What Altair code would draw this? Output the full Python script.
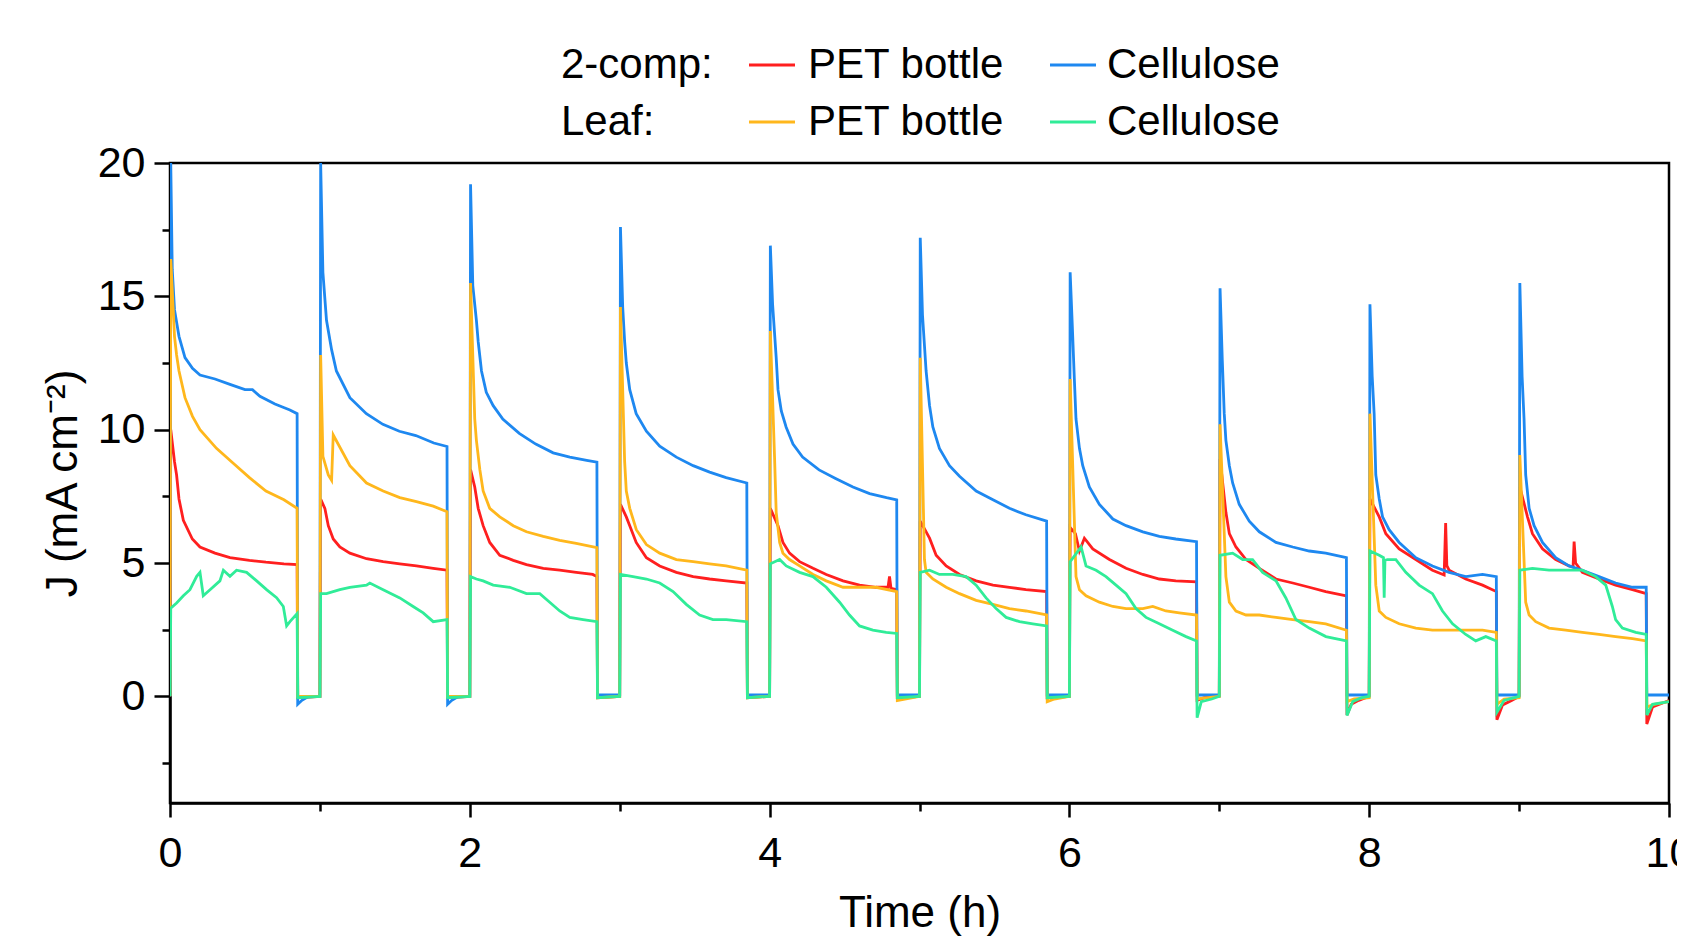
import altair as alt
import pandas as pd

FONT = "Liberation Sans, Arial, Helvetica, sans-serif"

SERIES = ["2-comp: PET bottle", "2-comp: Cellulose", "Leaf: PET bottle", "Leaf: Cellulose"]
COLORS = ["#FF1F1F", "#1E88F0", "#FFB71C", "#30EC98"]
DRAW_ORDER = ["2-comp: PET bottle", "2-comp: Cellulose", "Leaf: PET bottle", "Leaf: Cellulose"]

CYCLE_STARTS = [0, 1, 2, 3, 4, 5, 6, 7, 8, 9]

# [offset within cycle (h), J (mA cm-2)] -- light-on part of each cycle
CELL_2COMP_ON = [
    [[0, 0], [0.005, 20.0], [0.015, 16.0], [0.03, 14.5], [0.06, 13.5], [0.1, 12.7], [0.15, 12.3], [0.2, 12.05], [0.3, 11.9], [0.4, 11.7], [0.5, 11.5], [0.55, 11.5], [0.6, 11.25], [0.7, 10.96], [0.8, 10.74], [0.848, 10.6]],
    [[0, 0], [0.005, 20.0], [0.02, 15.9], [0.044, 14.1], [0.078, 13.0], [0.11, 12.2], [0.2, 11.2], [0.31, 10.6], [0.42, 10.2], [0.53, 9.94], [0.64, 9.78], [0.76, 9.5], [0.848, 9.37]],
    [[0, 0], [0.005, 19.2], [0.02, 15.4], [0.044, 14.1], [0.056, 13.3], [0.078, 12.2], [0.11, 11.4], [0.156, 10.9], [0.22, 10.4], [0.33, 9.86], [0.44, 9.46], [0.556, 9.13], [0.667, 8.97], [0.78, 8.85], [0.848, 8.78]],
    [[0, 0], [0.005, 17.6], [0.02, 14.6], [0.033, 13.3], [0.044, 12.5], [0.067, 11.5], [0.11, 10.6], [0.178, 9.94], [0.267, 9.38], [0.378, 8.97], [0.49, 8.65], [0.6, 8.41], [0.71, 8.2], [0.848, 8.0]],
    [[0, 0], [0.005, 16.9], [0.02, 14.7], [0.044, 12.7], [0.056, 11.5], [0.078, 10.7], [0.11, 10.1], [0.156, 9.46], [0.22, 8.97], [0.33, 8.49], [0.44, 8.17], [0.556, 7.85], [0.667, 7.6], [0.78, 7.45], [0.848, 7.37]],
    [[0, 0], [0.005, 17.2], [0.02, 14.3], [0.044, 12.2], [0.067, 10.9], [0.089, 10.1], [0.133, 9.3], [0.2, 8.65], [0.267, 8.25], [0.378, 7.7], [0.49, 7.37], [0.6, 7.05], [0.71, 6.81], [0.848, 6.57]],
    [[0, 0], [0.005, 15.9], [0.02, 13.8], [0.033, 11.9], [0.044, 10.4], [0.067, 9.3], [0.089, 8.65], [0.133, 7.85], [0.2, 7.2], [0.29, 6.65], [0.378, 6.4], [0.49, 6.17], [0.6, 6.0], [0.71, 5.9], [0.848, 5.8]],
    [[0, 0], [0.005, 15.3], [0.02, 12.6], [0.033, 10.6], [0.044, 9.6], [0.067, 8.65], [0.089, 8.0], [0.133, 7.2], [0.2, 6.57], [0.267, 6.17], [0.378, 5.77], [0.49, 5.6], [0.6, 5.45], [0.71, 5.37], [0.848, 5.2]],
    [[0, 0], [0.005, 14.7], [0.02, 12.0], [0.033, 10.6], [0.044, 8.3], [0.067, 7.4], [0.089, 6.73], [0.133, 6.25], [0.2, 5.77], [0.311, 5.2], [0.422, 4.89], [0.533, 4.65], [0.644, 4.49], [0.756, 4.57], [0.848, 4.49]],
    [[0, 0], [0.005, 15.5], [0.02, 12.0], [0.033, 10.4], [0.044, 8.3], [0.067, 7.05], [0.1, 6.4], [0.156, 5.77], [0.244, 5.2], [0.333, 4.89], [0.422, 4.73], [0.533, 4.49], [0.644, 4.25], [0.756, 4.09], [0.848, 4.09]],
]
CELL_2COMP_OFF = [
    [[0.852, -0.3], [0.88, -0.15], [0.92, -0.02], [1.0, 0]],
    [[0.852, -0.3], [0.88, -0.15], [0.92, -0.02], [1.0, 0]],
    [[0.852, 0.05], [1.0, 0.05]],
    [[0.852, 0.05], [1.0, 0.05]],
    [[0.852, 0.05], [1.0, 0.05]],
    [[0.852, 0.05], [1.0, 0.05]],
    [[0.852, 0.05], [1.0, 0.05]],
    [[0.852, 0.05], [1.0, 0.05]],
    [[0.852, 0.05], [1.0, 0.05]],
    [[0.852, 0.05], [1.0, 0.05]],
]

PET_2COMP_ON = [
    [[0, 0], [0.005, 10.0], [0.03, 8.8], [0.044, 8.3], [0.06, 7.4], [0.089, 6.6], [0.149, 5.9], [0.2, 5.6], [0.3, 5.37], [0.4, 5.2], [0.53, 5.1], [0.64, 5.03], [0.76, 4.97], [0.848, 4.94]],
    [[0, 0], [0.005, 7.4], [0.033, 7.05], [0.056, 6.4], [0.089, 5.9], [0.133, 5.6], [0.2, 5.37], [0.311, 5.16], [0.422, 5.05], [0.533, 4.97], [0.644, 4.89], [0.756, 4.8], [0.848, 4.73]],
    [[0, 0], [0.005, 8.5], [0.033, 7.85], [0.056, 7.05], [0.089, 6.4], [0.133, 5.77], [0.2, 5.29], [0.29, 5.1], [0.378, 4.94], [0.49, 4.8], [0.6, 4.73], [0.71, 4.65], [0.82, 4.57], [0.848, 4.49]],
    [[0, 0], [0.005, 7.2], [0.044, 6.73], [0.067, 6.4], [0.11, 5.77], [0.178, 5.2], [0.267, 4.89], [0.378, 4.65], [0.49, 4.49], [0.6, 4.4], [0.71, 4.33], [0.848, 4.25]],
    [[0, 0], [0.005, 7.05], [0.056, 6.4], [0.089, 5.77], [0.133, 5.37], [0.2, 5.05], [0.29, 4.8], [0.378, 4.57], [0.49, 4.33], [0.6, 4.17], [0.71, 4.09], [0.79, 4.09], [0.8, 4.5], [0.81, 4.05], [0.848, 4.0]],
    [[0, 0], [0.005, 6.57], [0.067, 5.93], [0.111, 5.29], [0.178, 4.89], [0.267, 4.57], [0.378, 4.33], [0.49, 4.17], [0.6, 4.09], [0.71, 4.0], [0.848, 3.93]],
    [[0, 0], [0.005, 6.33], [0.04, 6.1], [0.067, 5.45], [0.1, 5.93], [0.156, 5.53], [0.267, 5.13], [0.378, 4.8], [0.49, 4.57], [0.6, 4.4], [0.71, 4.33], [0.848, 4.29]],
    [[0, 0], [0.005, 8.9], [0.044, 6.9], [0.067, 6.1], [0.111, 5.6], [0.178, 5.13], [0.267, 4.8], [0.378, 4.4], [0.49, 4.25], [0.6, 4.09], [0.71, 3.93], [0.848, 3.77]],
    [[0, 0], [0.005, 7.4], [0.067, 6.73], [0.111, 6.1], [0.2, 5.53], [0.311, 5.13], [0.422, 4.73], [0.5, 4.55], [0.51, 6.5], [0.518, 4.9], [0.533, 4.73], [0.644, 4.4], [0.756, 4.17], [0.848, 3.93]],
    [[0, 0], [0.005, 7.85], [0.056, 6.73], [0.089, 6.1], [0.156, 5.53], [0.244, 5.13], [0.333, 4.89], [0.36, 4.85], [0.367, 5.8], [0.377, 5.0], [0.422, 4.65], [0.533, 4.4], [0.644, 4.17], [0.756, 4.0], [0.848, 3.85]],
]
PET_2COMP_OFF = [
    [[0.852, -0.05], [1.0, 0]],
    [[0.852, -0.05], [1.0, 0]],
    [[0.852, -0.05], [1.0, 0]],
    [[0.852, -0.05], [1.0, 0]],
    [[0.852, -0.05], [1.0, 0]],
    [[0.852, -0.05], [1.0, 0]],
    [[0.852, -0.15], [0.9, -0.05], [1.0, 0]],
    [[0.852, -0.7], [0.88, -0.3], [0.93, -0.15], [1.0, 0]],
    [[0.852, -0.88], [0.89, -0.32], [0.95, -0.16], [1.0, 0]],
    [[0.852, -1.04], [0.89, -0.4], [1.0, -0.16]],
]

PET_LEAF_ON = [
    [[0, 0], [0.005, 16.4], [0.03, 13.5], [0.044, 12.8], [0.06, 12.2], [0.1, 11.2], [0.15, 10.5], [0.2, 10.0], [0.31, 9.3], [0.42, 8.75], [0.53, 8.2], [0.64, 7.7], [0.76, 7.37], [0.848, 7.05]],
    [[0, 0], [0.005, 12.8], [0.02, 9.0], [0.056, 8.3], [0.078, 8.1], [0.089, 9.8], [0.2, 8.65], [0.311, 8.0], [0.422, 7.7], [0.533, 7.45], [0.644, 7.3], [0.756, 7.13], [0.848, 6.92]],
    [[0, 0], [0.005, 15.5], [0.033, 10.4], [0.044, 9.6], [0.067, 8.5], [0.089, 7.7], [0.133, 7.05], [0.2, 6.73], [0.29, 6.4], [0.378, 6.17], [0.49, 6.0], [0.6, 5.85], [0.71, 5.74], [0.848, 5.58]],
    [[0, 0], [0.005, 14.6], [0.033, 8.8], [0.044, 7.7], [0.067, 7.05], [0.111, 6.25], [0.178, 5.69], [0.267, 5.37], [0.378, 5.13], [0.49, 5.05], [0.6, 4.97], [0.71, 4.89], [0.848, 4.73]],
    [[0, 0], [0.005, 13.7], [0.033, 8.97], [0.044, 6.9], [0.067, 5.77], [0.089, 5.37], [0.133, 5.13], [0.2, 4.89], [0.29, 4.57], [0.378, 4.33], [0.49, 4.09], [0.6, 4.09], [0.71, 4.09], [0.848, 3.93]],
    [[0, 0], [0.005, 12.7], [0.033, 5.13], [0.044, 4.65], [0.089, 4.4], [0.178, 4.09], [0.267, 3.85], [0.378, 3.6], [0.49, 3.45], [0.6, 3.29], [0.71, 3.2], [0.848, 3.05]],
    [[0, 0], [0.005, 11.9], [0.044, 4.49], [0.067, 4.0], [0.111, 3.77], [0.2, 3.53], [0.29, 3.37], [0.378, 3.29], [0.49, 3.29], [0.556, 3.37], [0.644, 3.2], [0.733, 3.13], [0.848, 3.05]],
    [[0, 0], [0.005, 10.2], [0.044, 4.49], [0.067, 3.53], [0.111, 3.2], [0.178, 3.05], [0.267, 3.05], [0.378, 2.96], [0.49, 2.88], [0.6, 2.8], [0.71, 2.72], [0.848, 2.48]],
    [[0, 0], [0.005, 10.6], [0.044, 4.17], [0.067, 3.2], [0.111, 2.96], [0.2, 2.72], [0.311, 2.56], [0.422, 2.48], [0.533, 2.48], [0.644, 2.48], [0.756, 2.48], [0.848, 2.4]],
    [[0, 0], [0.005, 9.05], [0.044, 3.53], [0.067, 3.05], [0.111, 2.8], [0.2, 2.56], [0.311, 2.48], [0.422, 2.4], [0.533, 2.32], [0.644, 2.24], [0.756, 2.16], [0.848, 2.08]],
]
PET_LEAF_OFF = [
    [[0.852, 0.0], [1.0, 0]],
    [[0.852, 0.0], [1.0, 0]],
    [[0.852, -0.05], [1.0, 0]],
    [[0.852, -0.05], [1.0, 0]],
    [[0.852, -0.16], [1.0, 0]],
    [[0.852, -0.2], [0.9, -0.1], [1.0, 0]],
    [[0.852, -0.1], [1.0, 0]],
    [[0.852, -0.2], [0.9, -0.1], [1.0, -0.05]],
    [[0.852, -0.3], [0.9, -0.1], [1.0, -0.05]],
    [[0.852, -0.4], [0.9, -0.3], [1.0, -0.2]],
]

CELL_LEAF_ON = [
    [[0, 0], [0.005, 3.3], [0.044, 3.5], [0.089, 3.77], [0.133, 4.0], [0.178, 4.5], [0.2, 4.65], [0.222, 3.77], [0.267, 4.0], [0.333, 4.33], [0.356, 4.73], [0.4, 4.5], [0.444, 4.73], [0.511, 4.65], [0.578, 4.33], [0.644, 4.0], [0.711, 3.7], [0.756, 3.37], [0.778, 2.64], [0.8, 2.8], [0.848, 3.1]],
    [[0, 0], [0.005, 3.85], [0.044, 3.85], [0.133, 4.0], [0.2, 4.09], [0.311, 4.17], [0.333, 4.25], [0.422, 4.0], [0.533, 3.69], [0.622, 3.37], [0.689, 3.13], [0.756, 2.8], [0.848, 2.88]],
    [[0, 0], [0.005, 4.49], [0.044, 4.4], [0.089, 4.33], [0.156, 4.17], [0.267, 4.09], [0.378, 3.85], [0.467, 3.85], [0.533, 3.53], [0.6, 3.2], [0.667, 2.96], [0.756, 2.88], [0.848, 2.8]],
    [[0, 0], [0.005, 4.57], [0.089, 4.49], [0.178, 4.4], [0.267, 4.25], [0.356, 3.93], [0.444, 3.45], [0.533, 3.05], [0.622, 2.88], [0.711, 2.88], [0.848, 2.8]],
    [[0, 0], [0.005, 4.97], [0.067, 5.13], [0.111, 4.89], [0.2, 4.65], [0.289, 4.49], [0.378, 4.09], [0.467, 3.53], [0.533, 3.05], [0.6, 2.64], [0.689, 2.48], [0.778, 2.4], [0.848, 2.36]],
    [[0, 0], [0.005, 4.65], [0.067, 4.73], [0.133, 4.57], [0.222, 4.57], [0.311, 4.49], [0.378, 4.17], [0.444, 3.69], [0.511, 3.29], [0.578, 2.96], [0.667, 2.8], [0.756, 2.72], [0.848, 2.64]],
    [[0, 0], [0.005, 5.05], [0.078, 5.6], [0.111, 4.89], [0.178, 4.73], [0.244, 4.49], [0.311, 4.17], [0.378, 3.85], [0.444, 3.29], [0.511, 2.96], [0.6, 2.72], [0.689, 2.48], [0.778, 2.24], [0.848, 2.08]],
    [[0, 0], [0.005, 5.29], [0.089, 5.37], [0.156, 5.13], [0.222, 5.13], [0.289, 4.65], [0.378, 4.33], [0.444, 3.69], [0.511, 2.88], [0.6, 2.56], [0.711, 2.24], [0.848, 2.08]],
    [[0, 0], [0.005, 5.45], [0.067, 5.29], [0.095, 5.2], [0.1, 3.7], [0.105, 5.1], [0.122, 5.13], [0.178, 5.13], [0.244, 4.65], [0.333, 4.17], [0.422, 3.85], [0.489, 3.2], [0.556, 2.72], [0.644, 2.32], [0.711, 2.08], [0.778, 2.24], [0.848, 2.08]],
    [[0, 0], [0.005, 4.73], [0.089, 4.8], [0.2, 4.73], [0.311, 4.73], [0.422, 4.73], [0.511, 4.49], [0.578, 4.17], [0.622, 3.37], [0.644, 2.88], [0.689, 2.56], [0.778, 2.4], [0.848, 2.32]],
]
CELL_LEAF_OFF = [
    [[0.852, -0.05], [1.0, 0]],
    [[0.852, -0.05], [1.0, 0]],
    [[0.852, -0.05], [1.0, 0]],
    [[0.852, -0.05], [1.0, 0]],
    [[0.852, -0.05], [1.0, 0]],
    [[0.852, -0.05], [1.0, 0]],
    [[0.852, -0.8], [0.88, -0.2], [0.95, -0.1], [1.0, 0]],
    [[0.852, -0.72], [0.89, -0.2], [0.95, -0.05], [1.0, 0]],
    [[0.852, -0.6], [0.9, -0.15], [1.0, 0]],
    [[0.852, -0.7], [0.89, -0.3], [1.0, -0.2]],
]

SERIES_DATA = {
    "2-comp: PET bottle": (PET_2COMP_ON, PET_2COMP_OFF),
    "2-comp: Cellulose": (CELL_2COMP_ON, CELL_2COMP_OFF),
    "Leaf: PET bottle": (PET_LEAF_ON, PET_LEAF_OFF),
    "Leaf: Cellulose": (CELL_LEAF_ON, CELL_LEAF_OFF),
}

rows = []
for name, (on, off) in SERIES_DATA.items():
    idx = 0
    for start, cyc_on, cyc_off in zip(CYCLE_STARTS, on, off):
        for r, j in cyc_on + cyc_off:
            rows.append({"series": name, "t": start + r, "J": j, "idx": idx})
            idx += 1
df = pd.DataFrame(rows)

LABEL_SIZE = 43
TITLE_SIZE = 44

x_axis = alt.Axis(
    values=list(range(0, 11)),
    labelExpr="datum.value % 2 === 0 ? datum.label : ''",
    tickSize={"condition": {"test": "datum.value % 2 === 0", "value": 14}, "value": 8},
    tickWidth=2.5, tickColor="black", domainColor="black", domainWidth=2.5,
    labelFont=FONT, labelFontSize=LABEL_SIZE, labelColor="black", labelPadding=15,
    labelOverlap=False, labelFlush=False, grid=False,
    titleFont=FONT, titleFontSize=TITLE_SIZE, titleFontWeight="normal", titleColor="black",
    titlePadding=16,
)
y_axis = alt.Axis(
    values=[-2.5, 0, 2.5, 5, 7.5, 10, 12.5, 15, 17.5, 20],
    labelExpr="datum.value % 5 === 0 ? datum.label : ''",
    tickSize={"condition": {"test": "datum.value % 5 === 0", "value": 16}, "value": 8},
    tickWidth=2.5, tickColor="black", domainColor="black", domainWidth=2.5,
    labelFont=FONT, labelFontSize=LABEL_SIZE, labelColor="black", labelPadding=9,
    labelOverlap=False, labelFlush=False, grid=False,
    titleFont=FONT, titleFontSize=TITLE_SIZE, titleFontWeight="normal", titleColor="black",
    titlePadding=12,
)

base = alt.Chart(df).mark_line(strokeWidth=2.8, clip=True).encode(
    x=alt.X("t:Q", title="Time (h)", scale=alt.Scale(domain=[0, 10], nice=False, zero=False), axis=x_axis),
    y=alt.Y("J:Q", title="J (mA cm⁻²)", scale=alt.Scale(domain=[-4, 20], nice=False, zero=False), axis=y_axis),
    color=alt.Color("series:N", scale=alt.Scale(domain=SERIES, range=COLORS), legend=None),
    order=alt.Order("idx:Q"),
)

layers = [base.transform_filter(alt.datum.series == s) for s in DRAW_ORDER]

# legend (two rows with row headers)
one = pd.DataFrame({"k": [0]})
ROW_Y = [-98, -41]
ROW_HEAD = ["2-comp:", "Leaf:"]
COL_SYM_X = [(579, 625), (880, 926)]
COL_LABEL_X = [638, 937]
LEG_LABELS = [["PET bottle", "Cellulose"], ["PET bottle", "Cellulose"]]
LEG_COLORS = [[COLORS[0], COLORS[1]], [COLORS[2], COLORS[3]]]
LEG_SIZE = 42

for ri, ry in enumerate(ROW_Y):
    layers.append(alt.Chart(one).mark_text(align="left", baseline="middle", font=FONT, fontSize=LEG_SIZE, color="black").encode(
        x=alt.value(391), y=alt.value(ry), text=alt.value(ROW_HEAD[ri])))
    for ci in range(2):
        x1, x2 = COL_SYM_X[ci]
        layers.append(alt.Chart(one).mark_rule(strokeWidth=3, color=LEG_COLORS[ri][ci]).encode(
            x=alt.value(x1), x2=alt.value(x2), y=alt.value(ry)))
        layers.append(alt.Chart(one).mark_text(align="left", baseline="middle", font=FONT, fontSize=LEG_SIZE, color="black").encode(
            x=alt.value(COL_LABEL_X[ci]), y=alt.value(ry), text=alt.value(LEG_LABELS[ri][ci])))

chart = alt.layer(*layers).properties(
    width=1499, height=640,
    padding={"left": 162, "top": 155, "right": 8, "bottom": 135},
    autosize=alt.AutoSizeParams(type="none"),
    background="white",
).configure_view(stroke="black", strokeWidth=2.5)

chart.save("out.html", embed_options={"renderer": "svg", "actions": False})
